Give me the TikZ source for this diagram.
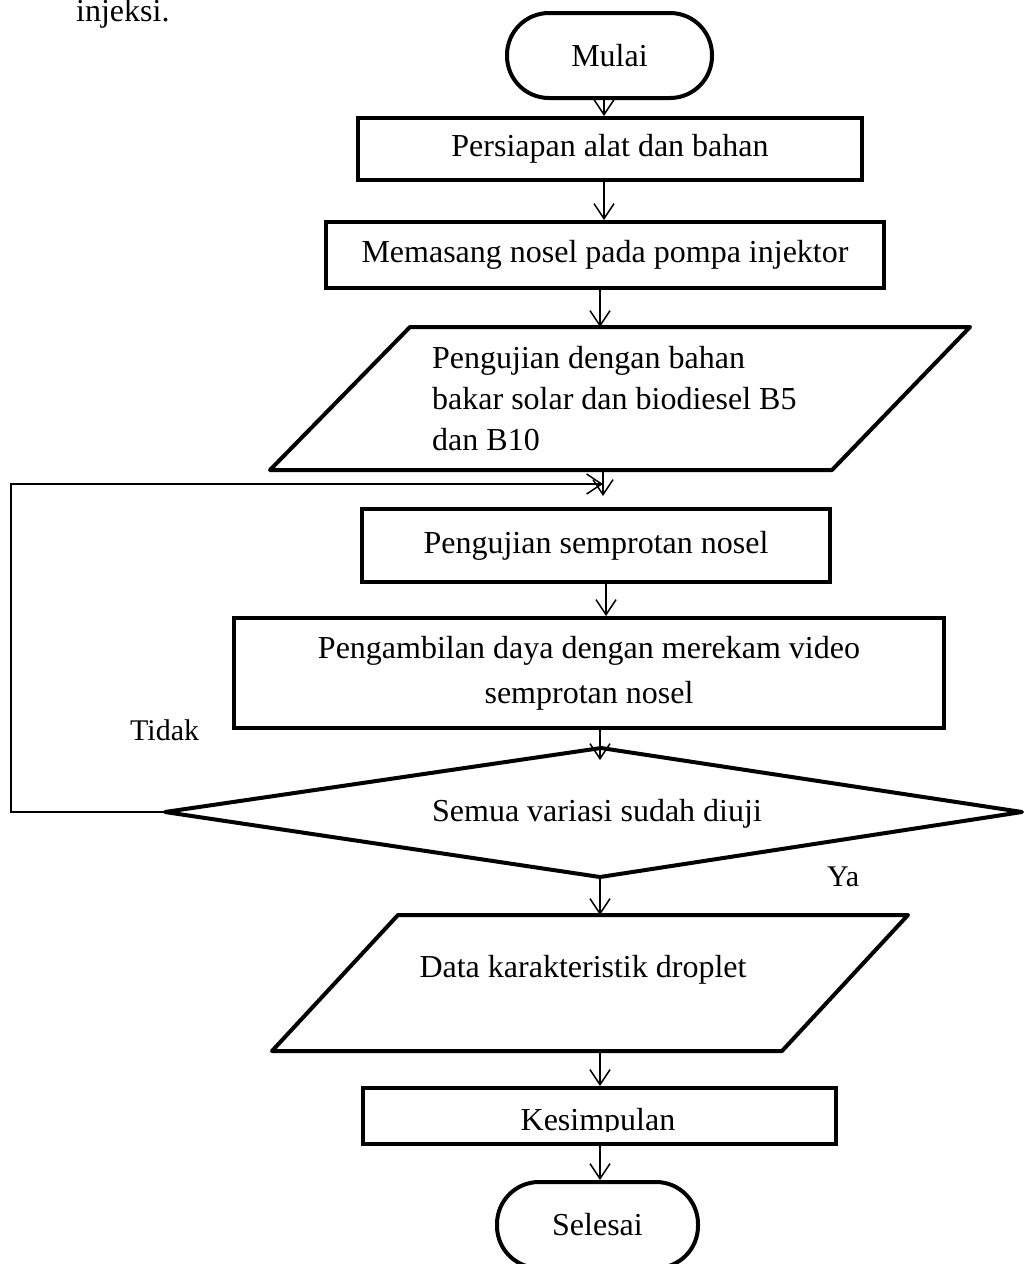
\documentclass[tikz,border=0pt]{standalone}
\usepackage{fontspec}
\setmainfont{Liberation Serif}
\usetikzlibrary{arrows.meta,calc}
\begin{document}
\begin{tikzpicture}[x=1pt,y=-1pt,
  box/.style={draw, line width=4pt, rectangle, inner sep=0pt, font=\fontsize{32}{44}\selectfont, align=center},
  term/.style={box, rounded corners=42pt},
  shapeline/.style={line width=4pt, line join=round},
  txt/.style={inner sep=0pt, font=\fontsize{32}{44}\selectfont},
  lbl/.style={inner sep=0pt, font=\fontsize{30}{36}\selectfont},
  arr/.style={line width=1.5pt, -{Straight Barb[length=15pt,width=20pt,line width=1.5pt]}}
]
\useasboundingbox (0,0) rectangle (1024,1264);
\clip (0,0) rectangle (1024,1264);

% helper x positions
\coordinate (x600) at (600,0);
\coordinate (x603) at (603,0);
\coordinate (x604) at (604,0);
\coordinate (x606) at (606,0);
\coordinate (lpx) at (11,0);

\node[txt, anchor=base west] (inj) at (76,21) {injeksi.};

\node[term, minimum width=205pt, minimum height=85pt] (mulai) at (609.5,55.5) {Mulai};
\node[box, minimum width=504pt, minimum height=62pt] (pers) at (610,149) {Persiapan alat dan bahan};
\node[box, minimum width=558pt, minimum height=66pt] (mem) at (605,255) {Memasang nosel pada pompa injektor};

% input parallelogram 1
\coordinate (p1tl) at (410,327);
\coordinate (p1tr) at (970,327);
\coordinate (p1br) at (832,470);
\coordinate (p1bl) at (270,470);
\coordinate (p1top) at (600,327);
\coordinate (p1bot) at (603,470);
\draw[shapeline] (p1tl) -- (p1tr) -- (p1br) -- (p1bl) -- cycle;
\node[txt, anchor=west, align=left, font=\fontsize{32}{41}\selectfont] (p1) at (432,399)
  {Pengujian dengan bahan\\bakar solar dan biodiesel B5\\dan B10};

\node[box, minimum width=468pt, minimum height=73pt] (semp) at (596,545.5) {Pengujian semprotan nosel};
\coordinate (sempin) at (603,496);
\coordinate (loopend) at (603,484);

\node[box, minimum width=710pt, minimum height=110pt, font=\fontsize{32}{45}\selectfont] (ambil) at (589,673)
  {Pengambilan daya dengan merekam video\\semprotan nosel};

% decision
\coordinate (dtop) at (601,748);
\coordinate (dright) at (1022,812);
\coordinate (dbot) at (600,877);
\coordinate (dleft) at (165,812);
\coordinate (dtopin) at (600,760);
\draw[shapeline] (dtop) -- (dright) -- (dbot) -- (dleft) -- cycle;
\node[txt] (dec) at (597,814) {Semua variasi sudah diuji};

\node[lbl, anchor=west] (tidak) at (130,730) {Tidak};
\node[lbl, anchor=west] (ya) at (827,877) {Ya};

% output parallelogram
\coordinate (p2tl) at (398,915);
\coordinate (p2tr) at (908,915);
\coordinate (p2br) at (782,1051);
\coordinate (p2bl) at (272,1051);
\coordinate (p2top) at (600,915);
\coordinate (p2bot) at (600,1051);
\draw[shapeline] (p2tl) -- (p2tr) -- (p2br) -- (p2bl) -- cycle;
\node[txt] (data) at (583,970) {Data karakteristik droplet};

\node[box, minimum width=473pt, minimum height=56pt] (kes) at (599.5,1116) {};
\begin{scope}
  \clip (363,1088) rectangle (836,1131);
  \node[txt, anchor=base] (kestext) at (598,1130) {Kesimpulan};
\end{scope}

\node[term, minimum width=201pt, minimum height=86pt] (sel) at (597.5,1225) {Selesai};

% connectors
\draw[arr] (mulai.south -| x604) -- (pers.north -| x604);
\draw[arr] (pers.south -| x604) -- (mem.north -| x604);
\draw[arr] (mem.south -| x600) -- (p1top);
\draw[arr] (p1bot) -- (sempin);
\draw[arr] (dleft) -- (dleft -| lpx) |- (loopend);
\draw[arr] (semp.south -| x606) -- (ambil.north -| x606);
\draw[arr] (ambil.south -| x600) -- (dtopin);
\draw[arr] (dbot) -- (p2top);
\draw[arr] (p2bot) -- (kes.north -| x600);
\draw[arr] (kes.south -| x600) -- (sel.north -| x600);
\end{tikzpicture}
\end{document}
